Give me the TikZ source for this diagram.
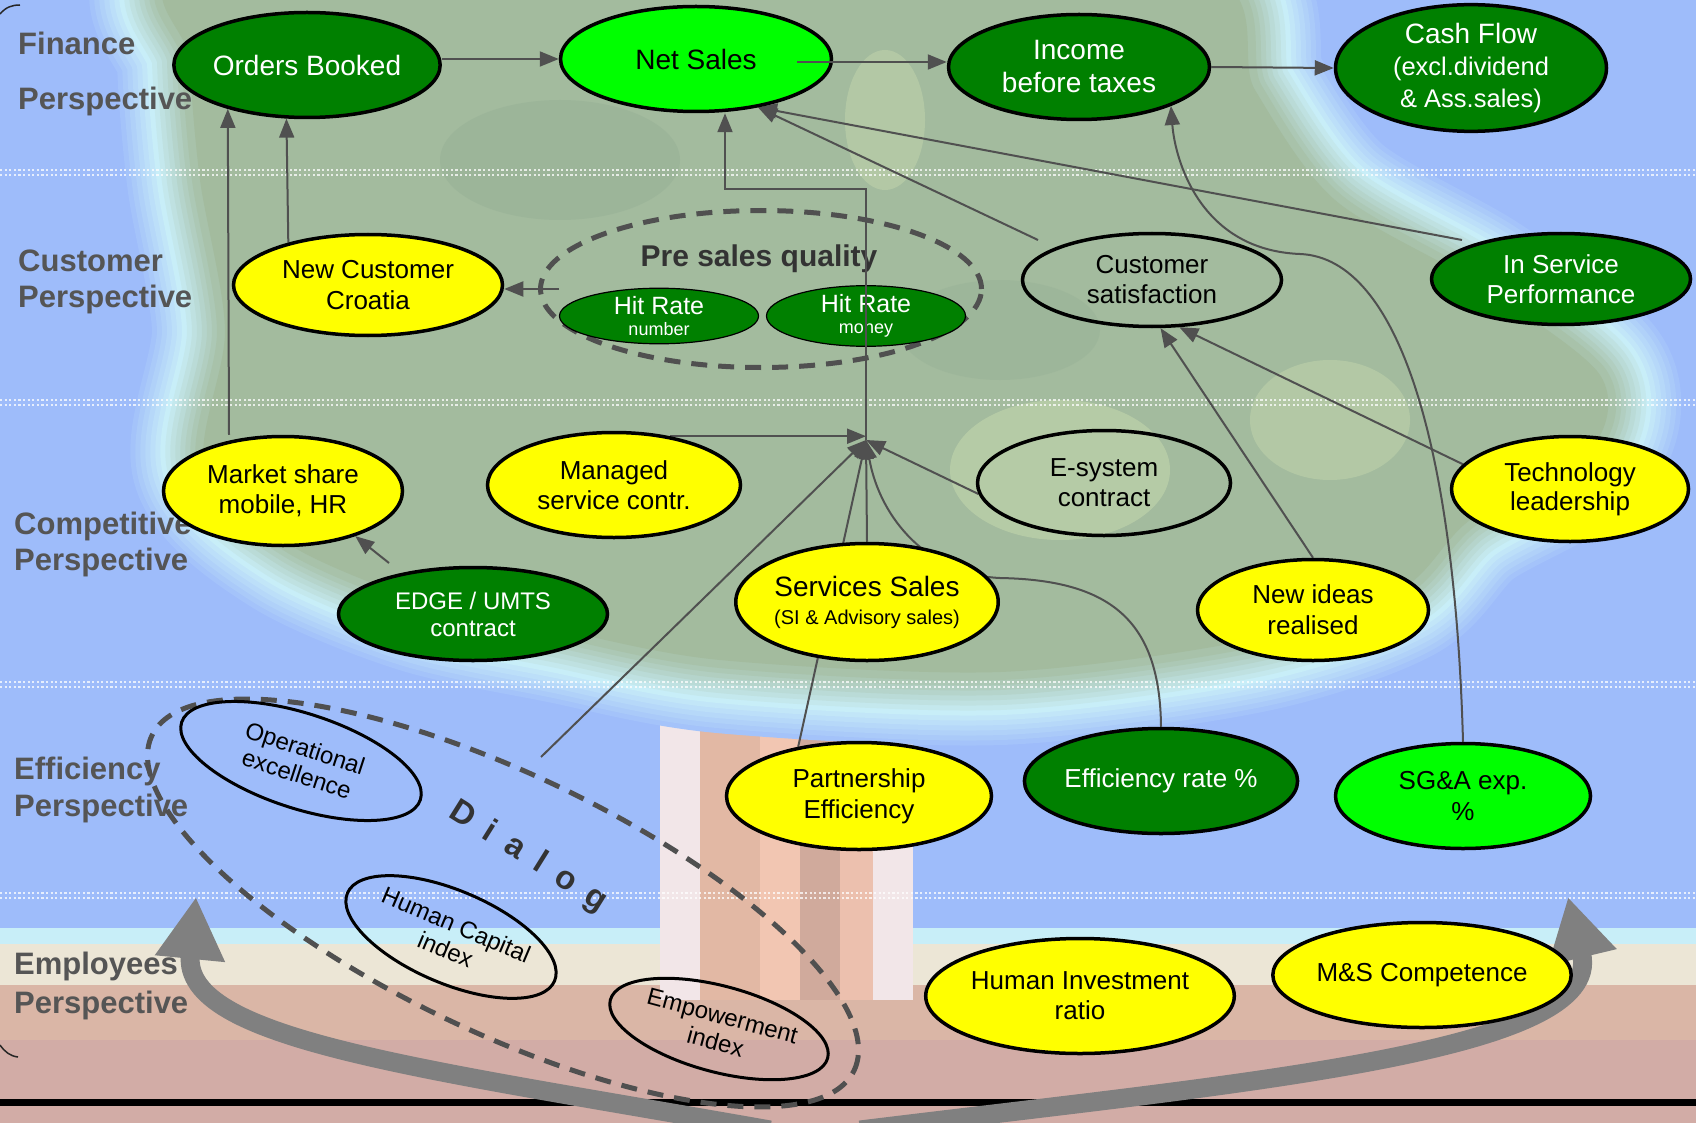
\documentclass[tikz,border=0pt]{standalone}
\usepackage{fontspec}
\setmainfont{Liberation Sans}
\usetikzlibrary{shapes.geometric,arrows.meta,calc}
\pgfdeclarelayer{bg}
\pgfdeclarelayer{back}
\pgfdeclarelayer{front}
\pgfsetlayers{bg,back,main,front}
\definecolor{dkgreen}{RGB}{0,128,0}
\definecolor{ltgreen}{RGB}{0,255,0}
\definecolor{ylw}{RGB}{255,255,0}
\definecolor{connc}{RGB}{80,80,80}
\definecolor{lblc}{RGB}{85,85,85}
\definecolor{skyc}{RGB}{158,188,250}
\definecolor{haloc}{RGB}{200,238,248}
\definecolor{folc}{RGB}{163,187,158}
\definecolor{fol2}{RGB}{190,210,170}
\definecolor{fol3}{RGB}{150,176,150}
\definecolor{creamc}{RGB}{236,230,214}
\definecolor{groundc}{RGB}{218,182,166}
\definecolor{ground2}{RGB}{210,172,166}
\definecolor{trA}{RGB}{242,230,232}
\definecolor{trB}{RGB}{226,184,164}
\definecolor{trC}{RGB}{242,198,178}
\definecolor{trD}{RGB}{208,170,156}
\definecolor{trE}{RGB}{236,192,174}
\definecolor{arrowc}{RGB}{128,128,128}
\definecolor{darktext}{RGB}{51,51,51}
\tikzset{
  kpi/.style={ellipse, draw=black, line width=3.5pt, inner sep=0pt, align=center, font=\fontsize{26}{31}\selectfont},
  dk/.style={kpi, fill=dkgreen, text=white},
  lt/.style={kpi, fill=ltgreen},
  yl/.style={kpi, fill=ylw},
  hollow/.style={kpi},
  hrate/.style={ellipse, draw=black, line width=1.2pt, fill=dkgreen, text=white, inner sep=0pt, align=center, font=\fontsize{25}{26}\selectfont, minimum width=199pt, minimum height=51pt},
  tilted/.style={ellipse, draw=black, line width=3pt, inner sep=0pt, align=center, font=\fontsize{24}{27}\selectfont},
  link/.style={draw=connc, line width=2pt, -{Triangle[length=19pt,width=15pt]}},
  dashring/.style={ellipse, draw=connc, line width=5pt, dash pattern=on 16pt off 11pt, inner sep=0pt},
  persp/.style={anchor=base west, inner sep=0pt, text=lblc, font=\bfseries\fontsize{31}{35}\selectfont},
  bigarrow/.style={draw=arrowc, line width=19pt, -{Triangle[length=62pt,width=66pt]}},
  sepline/.style={draw=white, line width=2.2pt, dash pattern=on 2.2pt off 2.4pt, opacity=.75}
}
\begin{document}
\begin{tikzpicture}[x=1pt,y=-1pt]
\useasboundingbox (0,0) rectangle (1696,1123);

% ---------------- background
\begin{pgfonlayer}{bg}
\fill[skyc] (0,0) rectangle (1696,1123);
\fill[haloc] (0,928) rectangle (1696,946);
\fill[creamc] (0,944) rectangle (1696,990);
\fill[groundc] (0,985) rectangle (1696,1123);
\fill[ground2] (0,1040) rectangle (1696,1123);
% trunk
\fill[trA] (660,600) rectangle (700,1000);
\fill[trB] (700,600) rectangle (760,1000);
\fill[trC] (760,600) rectangle (800,1000);
\fill[trD] (800,600) rectangle (840,1000);
\fill[trE] (840,600) rectangle (873,1000);
\fill[trA] (873,600) rectangle (913,1000);
% foliage with soft halo
\path[save path=\folp] plot[smooth cycle] coordinates {(195,-30) (700,-40) (1195,-30) (1255,90) (1335,200) (1480,285) (1600,375) (1590,450) (1470,520) (1400,590) (1250,640) (1000,672) (720,660) (560,630) (420,600) (290,545) (205,465) (225,330) (200,180) (190,60)};
\foreach \i in {0,...,13} {
  \pgfmathtruncatemacro{\w}{146-10*\i}
  \ifnum\i<7
    \pgfmathtruncatemacro{\p}{(\i+1)*100/7}
    \colorlet{hcol}{haloc!\p!skyc}
  \else
    \pgfmathtruncatemacro{\p}{(\i-6)*100/8}
    \colorlet{hcol}{folc!\p!haloc}
  \fi
  \draw[draw=hcol, line width=\w pt, line join=round, use path=\folp];
}
\fill[folc, use path=\folp];
\fill[fol2, opacity=.7] (1060,470) ellipse [x radius=110pt, y radius=70pt];
\fill[fol2, opacity=.6] (885,120) ellipse [x radius=40pt, y radius=70pt];
\fill[fol2, opacity=.6] (1330,420) ellipse [x radius=80pt, y radius=60pt];
\fill[fol3, opacity=.5] (560,160) ellipse [x radius=120pt, y radius=60pt];
\fill[fol3, opacity=.4] (1000,330) ellipse [x radius=100pt, y radius=50pt];
% separators
\foreach \yy in {170,400,682,893} {
  \draw[sepline] (0,\yy) -- (1696,\yy);
  \draw[sepline] (0,\yy+5) -- (1696,\yy+5);
}
% corner arcs
\draw[black!85, line width=1.5pt] (0,14) .. controls (6,7) and (12,5) .. (20,5);
\draw[black!85, line width=1.5pt] (0,1045) .. controls (5,1052) and (10,1056) .. (18,1057);
% perspective labels
\node[persp] (lf1) at (18,55) {Finance};
\node[persp] (lf2) at (18,110) {Perspective};
\node[persp] (lc1) at (18,271) {Customer};
\node[persp] (lc2) at (18,307) {Perspective};
\node[persp] (lk1) at (14,534) {Competitive};
\node[persp] (lk2) at (14,570) {Perspective};
\node[persp] (le1) at (14,779) {Efficiency};
\node[persp] (le2) at (14,816) {Perspective};
\node[persp] (lm1) at (14,974) {Employees};
\node[persp] (lm2) at (14,1013) {Perspective};
\end{pgfonlayer}

% ---------------- nodes
\node[dk, minimum width=253pt, minimum height=105pt] (ob) at (307,65) {\fontsize{28}{32}\selectfont Orders Booked};
\node[lt, minimum width=271pt, minimum height=105pt] (ns) at (696,59) {\fontsize{28}{32}\selectfont Net Sales};
\node[dk, minimum width=261pt, minimum height=105pt, font=\fontsize{28}{33}\selectfont] (inc) at (1079,67) {Income\\before taxes};
\node[dk, minimum width=271pt, minimum height=107pt, font=\fontsize{25.5}{32}\selectfont] (cf) at (1471,68) {{\fontsize{28}{32}\selectfont Cash Flow}\\(excl.dividend\\\& Ass.sales)};
\node[yl, minimum width=269pt, minimum height=101pt] (nc) at (368,285) {New Customer\\Croatia};
\node[hollow, minimum width=259pt, minimum height=93pt, font=\fontsize{26}{30}\selectfont] (cs) at (1152,280) {Customer\\satisfaction};
\node[dk, minimum width=259pt, minimum height=91pt, font=\fontsize{26}{30}\selectfont] (isp) at (1561,279) {In Service\\Performance};
\node[yl, minimum width=239pt, minimum height=109pt, font=\fontsize{26}{30}\selectfont] (ms) at (283,491) {Market share\\mobile, HR};
\node[yl, minimum width=253pt, minimum height=105pt, font=\fontsize{26}{30.5}\selectfont] (mg) at (614,485) {Managed\\service contr.};
\node[hollow, minimum width=253pt, minimum height=105pt, font=\fontsize{26}{30}\selectfont] (es) at (1104,483) {E-system\\contract};
\node[yl, minimum width=237pt, minimum height=105pt, font=\fontsize{26}{29}\selectfont] (tl) at (1570,489) {Technology\\leadership};
\node[dk, minimum width=269pt, minimum height=93pt, font=\fontsize{24}{27}\selectfont] (edge) at (473,614) {EDGE / UMTS\\contract};
\node[yl, minimum width=245pt, minimum height=117pt] (ss) at (867,602) {{\fontsize{28}{30}\selectfont Services Sales}\\[-3pt]{\fontsize{20}{22}\selectfont (SI \& Advisory sales)}};
\node[yl, minimum width=231pt, minimum height=101pt] (ni) at (1313,610) {New ideas\\realised};
\node[yl, minimum width=265pt, minimum height=107pt] (pe) at (859,796) {Partnership\\Efficiency};
\node[dk, minimum width=247pt, minimum height=105pt] (er) at (1161,781) {Efficiency rate \%};
\node[lt, minimum width=255pt, minimum height=105pt] (sga) at (1463,796) {SG\&A exp.\\\%};
\node[yl, minimum width=299pt, minimum height=115pt, font=\fontsize{26}{30}\selectfont] (hi) at (1080,996) {Human Investment\\ratio};
\node[yl, minimum width=247pt, minimum height=105pt] (msc) at (1422,975) {M\&S Competence};
\node[tilted, minimum width=251pt, minimum height=95pt, rotate=-18] (oe) at (301,761) {Operational\\excellence};
\node[tilted, minimum width=225pt, minimum height=93pt, rotate=-23] (hc) at (451,937) {Human Capital\\index};
\node[tilted, minimum width=225pt, minimum height=86pt, rotate=-15] (emp) at (719,1029) {Empowerment\\index};

% ---------------- grouping rings, big arrows, connectors
\begin{pgfonlayer}{back}
\fill[black] (0,1099) rectangle (1696,1106);
\draw[bigarrow] (770,1130) .. controls (420,1068) and (182,1040) .. (196,897);
\draw[bigarrow] (860,1130) .. controls (1250,1082) and (1605,1052) .. (1568,897);
\node[dashring, minimum width=778pt, minimum height=258pt, rotate=-25.5] (dlg) at (503,903) {};
\node[font=\bfseries\fontsize{33}{33}\selectfont, text=darktext, rotate=-32, inner sep=0pt] (dlgtxt) at (528,857) {D\hspace{15.8pt}i\hspace{15.8pt}a\hspace{15.8pt}l\hspace{15.8pt}o\hspace{15.8pt}g};
\node[dashring, minimum width=441pt, minimum height=157pt] (ps) at (761,289) {};
\node[font=\bfseries\fontsize{30}{32}\selectfont, text=darktext, inner sep=0pt] (psq) at (759,259) {Pre sales quality};
\node[hrate] (hr1) at (659,316) {Hit Rate\\[-5pt]{\fontsize{18}{18}\selectfont number}};
\node[hrate] (hr2) at (866,316) {Hit Rate\\[-5pt]{\fontsize{18}{18}\selectfont money}};

\coordinate (hub) at (866,440);
\coordinate (csT) at (1038,240);
\coordinate (ispT) at (1462,240);
\coordinate (edgeT) at (389,563);
\coordinate (dlgT) at (541,757);

\draw[link] (ob.east |- ns.west) -- (ns.west);
\draw[link] (inc.east) -- (cf.west);
\draw[link] ([xshift=-54pt]ms.north) -- (ob.209);
\draw[link] (nc.152.6) -- (ob.249.4);
\draw[link] ([xshift=21pt]ps.west) -- (nc.east |- ps.west);
\draw[link] (mg.41) -- (mg.41 -| hub);
\draw[link] (es.185) -- (hub);
\draw[link] (ss.north) -- (hub);
\draw[link] (pe.141) -- (hub);
\draw[link] (er.north) .. controls (1160,620) and (1110,580) .. (1000,578) .. controls (930,575) and (880,520) .. (hub);
\draw[link] (dlgT) -- (hub);
\draw[link] (csT) -- (ns.322);
\draw[link] (ispT) -- (ns.322);
\draw[link] (sga.north) .. controls (1455,450) and (1400,258) .. (1300,254) .. controls (1200,250) and (1175,160) .. (inc.337);
\draw[link] (ni.north) -- (cs.280);
\draw[link] (tl.167.5) -- (cs.300);
\draw[link] (edgeT) -- (ms.328);
\end{pgfonlayer}

\begin{pgfonlayer}{front}
\coordinate (bend) at (725,189);
\draw[link] (hub) |- (bend) -- (bend |- ns.south);
\draw[link] ([shift={(101,3)}]ns.center) -- ([yshift=5pt]inc.west);
\end{pgfonlayer}
\end{tikzpicture}
\end{document}
